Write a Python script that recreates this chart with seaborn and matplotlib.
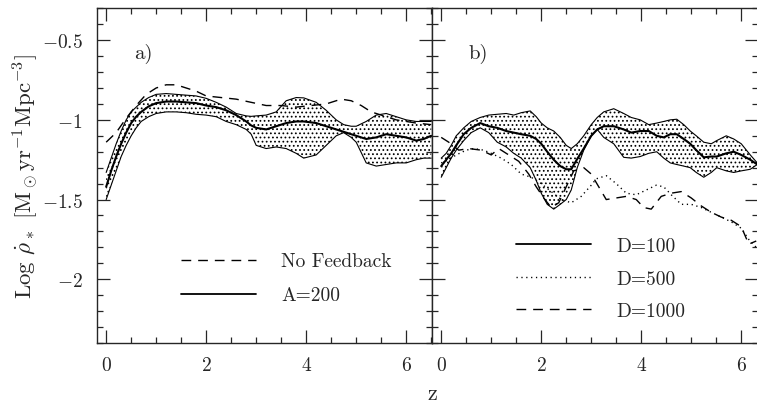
import numpy as np
import pandas as pd
import matplotlib
matplotlib.use("Agg")
import matplotlib.pyplot as plt
import matplotlib.ticker as mticker
from matplotlib.lines import Line2D
import seaborn as sns

# ---------------- data ----------------
# panel a) : No feedback (dashed) and A=200 (band + median)
z_nofb = [0, 0.2, 0.4, 0.6, 0.8, 1.0, 1.2, 1.4, 1.6, 1.8, 2.0, 2.3, 2.6, 2.9, 3.2,
          3.5, 3.8, 4.1, 4.4, 4.7, 4.9, 5.1, 5.3, 5.5, 5.8, 6.0, 6.2, 6.5]
sfr_nofb = [-1.14, -1.08, -0.99, -0.91, -0.84, -0.80, -0.78, -0.78, -0.80, -0.82, -0.85,
            -0.86, -0.87, -0.89, -0.91, -0.91, -0.92, -0.91, -0.90, -0.87, -0.88, -0.91,
            -0.95, -0.97, -1.00, -1.01, -1.02, -1.03]

z_a = [0, 0.1, 0.2, 0.3, 0.4, 0.5, 0.6, 0.7, 0.85, 1.0, 1.2, 1.4, 1.6, 1.8, 2.0, 2.2,
       2.4, 2.6, 2.8, 2.9, 3.0, 3.2, 3.4, 3.6, 3.8, 3.95, 4.2, 4.4, 4.6, 4.75, 4.9, 5.0,
       5.2, 5.4, 5.6, 5.8, 6.0, 6.2, 6.35, 6.5]
a200_hi = [-1.33, -1.24, -1.15, -1.07, -1.00, -0.95, -0.92, -0.89, -0.86, -0.84, -0.835,
           -0.84, -0.845, -0.85, -0.865, -0.89, -0.92, -0.96, -0.975, -0.978, -0.975, -0.97,
           -0.95, -0.88, -0.86, -0.862, -0.89, -0.94, -1.00, -1.03, -1.04, -1.04, -1.01,
           -0.97, -0.96, -0.98, -1.00, -1.01, -1.01, -1.01]
a200_mid = [-1.42, -1.32, -1.23, -1.15, -1.08, -1.02, -0.98, -0.95, -0.915, -0.895, -0.885,
            -0.885, -0.89, -0.895, -0.91, -0.92, -0.94, -0.97, -1.01, -1.035, -1.05, -1.06,
            -1.04, -1.02, -1.01, -1.01, -1.02, -1.04, -1.06, -1.075, -1.09, -1.10, -1.12,
            -1.11, -1.09, -1.10, -1.11, -1.13, -1.12, -1.10]
a200_lo = [-1.50, -1.41, -1.32, -1.23, -1.16, -1.10, -1.05, -1.01, -0.98, -0.96, -0.95,
           -0.95, -0.955, -0.965, -0.97, -0.98, -1.01, -1.03, -1.06, -1.09, -1.16, -1.18,
           -1.17, -1.18, -1.21, -1.24, -1.22, -1.16, -1.10, -1.08, -1.11, -1.14, -1.27,
           -1.29, -1.28, -1.27, -1.27, -1.25, -1.24, -1.24]

# panel b) : D=100 (band + median), D=500 (dotted), D=1000 (dashed)
z_b = [0, 0.1, 0.2, 0.3, 0.45, 0.6, 0.78, 0.95, 1.12, 1.3, 1.45, 1.6, 1.78, 1.9, 2.0,
       2.12, 2.25, 2.38, 2.5, 2.6, 2.72, 2.85, 3.0, 3.12, 3.25, 3.45, 3.65, 3.8, 3.98,
       4.15, 4.31, 4.45, 4.58, 4.71, 4.85, 4.98, 5.1, 5.25, 5.4, 5.51, 5.7, 5.85, 6.0,
       6.18, 6.32]
d100_hi = [-1.24, -1.21, -1.16, -1.10, -1.05, -1.01, -0.985, -0.97, -0.965, -0.96,
           -0.97, -0.955, -0.944, -0.98, -1.02, -1.05, -1.07, -1.11, -1.16, -1.18,
           -1.15, -1.10, -1.03, -0.985, -0.95, -0.93, -0.96, -0.985, -1.00, -1.03,
           -1.02, -1.01, -1.00, -0.996, -1.03, -1.07, -1.10, -1.14, -1.15, -1.13,
           -1.10, -1.12, -1.15, -1.22, -1.27]
d100_mid = [-1.29, -1.25, -1.21, -1.16, -1.09, -1.05, -1.02, -1.04, -1.05, -1.07,
            -1.08, -1.09, -1.10, -1.12, -1.15, -1.20, -1.25, -1.29, -1.31, -1.31,
            -1.245, -1.18, -1.10, -1.06, -1.04, -1.04, -1.06, -1.08, -1.07, -1.07,
            -1.10, -1.11, -1.09, -1.09, -1.12, -1.15, -1.19, -1.235, -1.23, -1.23,
            -1.21, -1.20, -1.22, -1.25, -1.28]
d100_lo = [-1.36, -1.30, -1.24, -1.19, -1.13, -1.08, -1.05, -1.08, -1.14, -1.17,
           -1.21, -1.24, -1.30, -1.38, -1.46, -1.53, -1.56, -1.53, -1.50, -1.44,
           -1.30, -1.19, -1.10, -1.06, -1.11, -1.15, -1.235, -1.24, -1.23, -1.21,
           -1.20, -1.24, -1.27, -1.28, -1.29, -1.30, -1.33, -1.36, -1.33, -1.30,
           -1.32, -1.33, -1.32, -1.31, -1.28]

z_d500 = [0, 0.15, 0.3, 0.5, 0.65, 0.85, 1.0, 1.2, 1.4, 1.6, 1.8, 2.0, 2.2, 2.4, 2.6,
          2.8, 3.0, 3.1, 3.3, 3.5, 3.7, 3.9, 4.1, 4.3, 4.45, 4.6, 4.8, 5.0, 5.2, 5.4,
          5.6, 5.8, 6.0, 6.15, 6.3]
sfr_d500 = [-1.27, -1.25, -1.22, -1.19, -1.18, -1.19, -1.21, -1.24, -1.28, -1.34,
            -1.36, -1.40, -1.45, -1.50, -1.52, -1.48, -1.41, -1.37, -1.35, -1.40,
            -1.46, -1.47, -1.44, -1.41, -1.42, -1.47, -1.53, -1.53, -1.55, -1.58,
            -1.61, -1.64, -1.68, -1.75, -1.80]

z_d1000 = [0, 0.15, 0.35, 0.55, 0.8, 1.0, 1.15, 1.35, 1.55, 1.75, 1.9, 2.05, 2.2, 2.35,
           2.5, 2.65, 2.85, 3.0, 3.15, 3.3, 3.5, 3.7, 3.9, 4.05, 4.2, 4.4, 4.6, 4.8,
           5.0, 5.2, 5.4, 5.6, 5.8, 6.0, 6.15, 6.3]
sfr_d1000 = [-1.11, -1.14, -1.19, -1.18, -1.19, -1.22, -1.18, -1.22, -1.26, -1.34,
             -1.42, -1.49, -1.55, -1.52, -1.42, -1.32, -1.30, -1.34, -1.42, -1.50,
             -1.49, -1.48, -1.50, -1.55, -1.56, -1.48, -1.46, -1.45, -1.49, -1.54,
             -1.58, -1.61, -1.63, -1.67, -1.78, -1.76]

legend_a = ["No Feedback", "A=200"]
legend_b = ["D=100", "D=500", "D=1000"]
panel_tags = ["a)", "b)"]

# ---------------- style ----------------
sns.set_style("ticks")
plt.rcParams["font.family"] = ["cmr10", "DejaVu Serif"]
plt.rcParams["mathtext.fontset"] = "cm"
plt.rcParams["axes.unicode_minus"] = False
plt.rcParams["axes.formatter.use_mathtext"] = True
plt.rcParams["lines.scale_dashes"] = False
plt.rcParams["hatch.linewidth"] = 0.75
plt.rcParams["hatch.color"] = "black"

DASH = (0, (7, 5))
DOT = (0, (0.9, 2.6))
FS = 14

fig = plt.figure(figsize=(7.57, 4.06), dpi=100)
H = 0.8244
B = 0.1527
axA = fig.add_axes([0.1277, B, 0.4426, H])
axB = fig.add_axes([0.5703, B, 0.4307, H])


def band(ax, z, hi, mid, lo):
    df = pd.DataFrame({"z": z, "hi": hi, "mid": mid, "lo": lo})
    ax.fill_between(df["z"], df["lo"], df["hi"], facecolor="none",
                    edgecolor="black", hatch="....", linewidth=0)
    sns.lineplot(data=df, x="z", y="hi", ax=ax, color="k", lw=0.8, sort=False)
    sns.lineplot(data=df, x="z", y="lo", ax=ax, color="k", lw=0.8, sort=False)
    sns.lineplot(data=df, x="z", y="mid", ax=ax, color="k", lw=1.5, sort=False)


# panel a
sns.lineplot(x=z_nofb, y=sfr_nofb, ax=axA, color="k", lw=1.0, linestyle=DASH, sort=False)
band(axA, z_a, a200_hi, a200_mid, a200_lo)

# panel b
band(axB, z_b, d100_hi, d100_mid, d100_lo)
sns.lineplot(x=z_d500, y=sfr_d500, ax=axB, color="k", lw=1.0, linestyle=DOT, sort=False)
sns.lineplot(x=z_d1000, y=sfr_d1000, ax=axB, color="k", lw=1.0, linestyle=DASH, sort=False)

axA.set_xlim(-0.19, 6.51)
axB.set_xlim(-0.19, 6.33)

for ax, tag in zip([axA, axB], panel_tags):
    ax.set_ylim(-2.4, -0.3)
    ax.set_xlabel("")
    ax.set_ylabel("")
    ax.xaxis.set_major_locator(mticker.MultipleLocator(2))
    ax.xaxis.set_minor_locator(mticker.MultipleLocator(0.5))
    ax.yaxis.set_major_locator(mticker.MultipleLocator(0.5))
    ax.yaxis.set_minor_locator(mticker.MultipleLocator(0.1))
    ax.tick_params(which="both", direction="in", top=True, right=True, width=0.9)
    ax.tick_params(which="major", length=9.5)
    ax.tick_params(which="minor", length=4.5)
    ax.tick_params(axis="x", labelsize=FS, pad=9.5)
    ax.tick_params(axis="y", labelsize=FS, pad=10)
    for s in ax.spines.values():
        s.set_linewidth(1.0)
    ax.text(0.55, -0.58, tag, fontsize=FS + 1, ha="left", va="center")

axA.yaxis.set_major_formatter(mticker.FuncFormatter(lambda v, p: f"${v:g}$"))
axB.tick_params(axis="y", labelleft=False)

axA.set_ylabel(r"Log $\dot{\rho}_*$ [M$_\odot$yr$^{-1}$Mpc$^{-3}$]",
               fontsize=16.5, va="center")
axA.yaxis.set_label_coords(-0.211, 0.5)
fig.text(432 / 757, 1 - 394 / 406, "z", fontsize=16, ha="center", va="center")

# legends
hA = [Line2D([], [], color="k", lw=1.0, linestyle=DASH),
      Line2D([], [], color="k", lw=1.3)]
axA.legend(hA, legend_a, loc="center left", bbox_to_anchor=(0.252, 0.193),
           frameon=False, fontsize=FS, handlelength=3.87, handletextpad=1.29,
           labelspacing=0.83, borderpad=0, borderaxespad=0)
hB = [Line2D([], [], color="k", lw=1.3),
      Line2D([], [], color="k", lw=1.0, linestyle=DOT),
      Line2D([], [], color="k", lw=1.0, linestyle=DASH)]
axB.legend(hB, legend_b, loc="center left", bbox_to_anchor=(0.259, 0.192),
           frameon=False, fontsize=FS, handlelength=3.87, handletextpad=1.29,
           labelspacing=0.75, borderpad=0, borderaxespad=0)

fig.savefig("out.png", dpi=100)
